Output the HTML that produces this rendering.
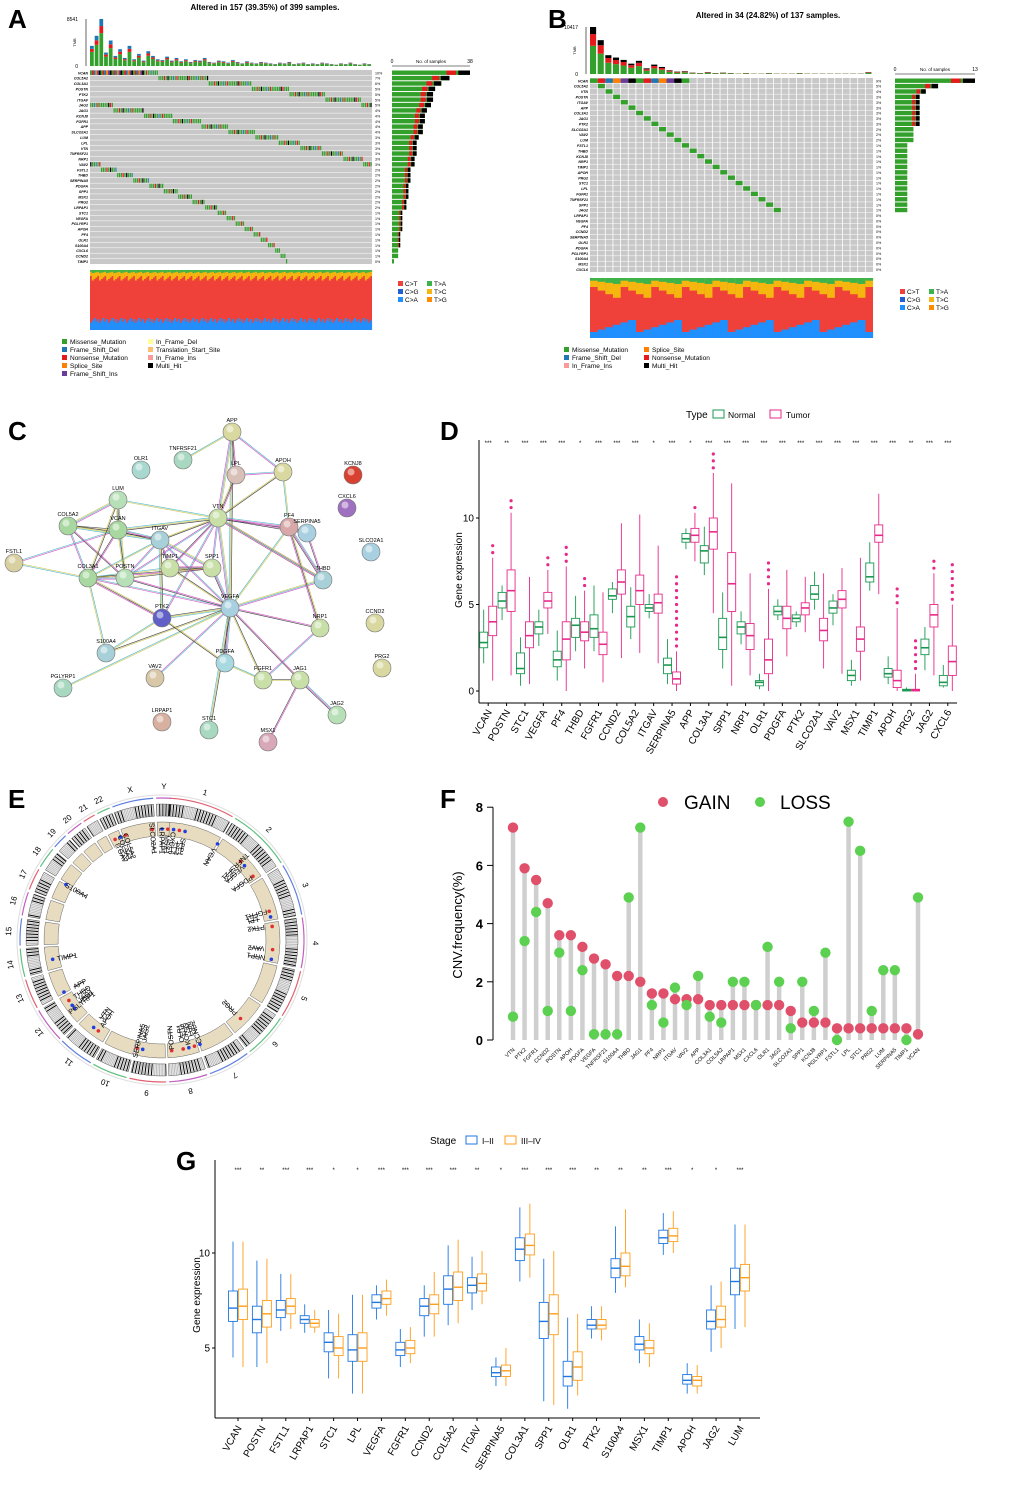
<!DOCTYPE html>
<html><head><meta charset="utf-8"><style>
html,body{margin:0;padding:0;background:#fff}
svg{display:block;font-family:"Liberation Sans",Arial,sans-serif}
</style></head><body>
<svg id="fig" width="1020" height="1487" viewBox="0 0 1020 1487"></svg>
<script>
// ===== Panel D data =====
const dGenes=["VCAN","POSTN","STC1","VEGFA","PF4","THBD","FGFR1","CCND2","COL5A2","ITGAV","SERPINA5","APP","COL3A1","SPP1","NRP1","OLR1","PDGFA","PTK2","SLCO2A1","VAV2","MSX1","TIMP1","APOH","PRG2","JAG2","CXCL6"];
const dStars=["***","**","***","***","***","*","***","***","***","*","***","*","***","***","***","***","***","***","***","***","***","***","***","**","***","***"];
const dNmed=[2.8,5.2,1.3,3.7,1.8,3.8,3.6,5.5,4.3,4.8,1.5,8.8,8.1,3.1,3.7,0.5,4.6,4.2,5.6,4.8,0.9,6.6,1.0,0.05,2.5,0.5];
const dNq1=[2.5,4.8,1.0,3.3,1.4,3.1,3.1,5.3,3.7,4.6,1.0,8.6,7.4,2.4,3.3,0.3,4.4,4.0,5.3,4.5,0.6,6.3,0.8,0.0,2.1,0.3];
const dNq3=[3.4,5.7,2.2,4.0,2.3,4.2,4.4,5.9,4.9,5.0,1.9,9.1,8.4,4.2,4.0,0.6,4.9,4.4,6.1,5.2,1.2,7.4,1.3,0.1,3.0,0.9];
const dNlo=[1.6,4.1,0.3,2.6,0.6,2.3,2.3,4.5,3.0,4.2,0.4,8.2,6.7,1.3,2.7,0.1,4.1,3.7,4.7,3.8,0.3,5.8,0.4,0,1.2,0.2];
const dNhi=[4.7,6.1,3.1,4.7,3.5,5.5,6.1,6.3,6.0,5.6,3.0,9.4,9.5,5.7,4.6,1.0,5.3,4.6,6.9,5.6,1.8,8.6,2.0,0.2,3.7,1.5];
const dTmed=[4.0,5.8,3.2,5.2,3.0,3.4,2.7,6.3,5.8,5.1,0.7,9.0,9.2,6.2,3.2,1.8,4.2,4.8,3.5,5.3,3.0,9.0,0.6,0.05,4.4,1.7];
const dTq1=[3.2,4.6,2.5,4.8,1.8,2.9,2.1,5.6,5.0,4.5,0.4,8.6,8.2,4.6,2.4,1.0,3.6,4.4,2.9,4.8,2.3,8.6,0.2,0,3.7,0.9];
const dTq3=[4.9,7.0,4.0,5.7,4.0,4.0,3.4,7.0,6.7,5.6,1.1,9.4,10.0,8.0,3.9,3.0,4.9,5.1,4.2,5.8,3.7,9.6,1.2,0.1,5.0,2.6];
const dTlo=[0.6,0.9,0.4,3.3,0,1.3,0.5,1.9,2.2,1.6,0,7.5,4.5,0.3,0.9,0,2.0,3.4,1.3,1.0,0.6,5.6,0,0,0.9,0];
const dThi=[7.7,10.3,6.6,7.0,7.2,5.8,5.7,9.7,10.2,8.4,2.3,10.3,12.6,12.0,6.8,5.9,7.0,6.6,6.8,7.1,7.7,11.4,4.8,1.0,6.8,5.0];
const dTmax=[8.7,11.1,6.6,7.7,8.7,6.8,5.7,9.7,10.2,8.4,6.7,10.8,14.1,12.0,6.9,7.8,7.0,6.8,6.8,7.1,7.7,11.4,5.9,3.1,7.7,7.6];
const dTmin=[0.6,0.8,0.4,3.0,0,1.0,0.5,1.8,2.0,1.5,0,5.0,4.3,0.3,0.9,0,2.0,2.8,0.3,0.9,0.6,5.5,0,0,0.6,0];
const dTicks=[0,5,10];
// ===== Panel F data =====
const fGenes=["VTN","PTK2","FGFR1","CCND2","POSTN","APOH","PDGFA","VEGFA","TNFRSF21","S100A4","THBD","JAG1","PF4","NRP1","ITGAV","VAV2","APP","COL3A1","COL5A2","LRPAP1","MSX1","CXCL6","OLR1","JAG2","SLCO2A1","SPP1","KCNJ8","PGLYRP1","FSTL1","LPL","STC1","PRG2","LUM","SERPINA5","TIMP1","VCAN"];
const fGain=[7.3,5.9,5.5,4.7,3.6,3.6,3.2,2.8,2.6,2.2,2.2,2.0,1.6,1.6,1.4,1.4,1.4,1.2,1.2,1.2,1.2,1.2,1.2,1.2,1.0,0.6,0.6,0.6,0.4,0.4,0.4,0.4,0.4,0.4,0.4,0.2];
const fLoss=[0.8,3.4,4.4,1.0,3.0,1.0,2.4,0.2,0.2,0.2,4.9,7.3,1.2,0.6,1.8,1.2,2.2,0.8,0.6,2.0,2.0,1.2,3.2,2.0,0.4,2.0,1.0,3.0,0.0,7.5,6.5,1.0,2.4,2.4,0.0,4.9];
const fTicks=[0,2,4,6,8];
// ===== Panel G data =====
const gGenes=["VCAN","POSTN","FSTL1","LRPAP1","STC1","LPL","VEGFA","FGFR1","CCND2","COL5A2","ITGAV","SERPINA5","COL3A1","SPP1","OLR1","PTK2","S100A4","MSX1","TIMP1","APOH","JAG2","LUM"];
const gStars=["***","**","***","***","*","*","***","***","***","***","**","*","***","***","***","**","**","**","***","*","*","***"];
const gAmed=[7.1,6.5,7.0,6.5,5.3,4.9,7.4,4.9,7.2,8.1,8.3,3.7,10.2,6.4,3.5,6.2,9.2,5.2,10.8,3.3,6.4,8.5];
const gAq1=[6.4,5.8,6.6,6.3,4.8,4.3,7.1,4.6,6.7,7.3,7.9,3.5,9.6,5.5,3.0,6.0,8.7,4.9,10.5,3.1,6.0,7.8];
const gAq3=[8.0,7.2,7.5,6.7,5.8,5.7,7.8,5.3,7.6,8.8,8.7,4.0,10.8,7.4,4.3,6.5,9.7,5.6,11.2,3.6,7.0,9.2];
const gAlo=[4.5,4.0,5.9,5.8,3.4,2.6,6.5,4.0,5.6,6.2,7.0,3.0,8.5,2.2,1.8,5.5,7.9,4.2,9.9,2.6,4.8,6.0];
const gAhi=[10.6,9.6,8.9,7.3,7.0,7.8,8.3,6.0,8.3,10.4,9.8,4.5,12.4,9.7,6.6,7.2,11.4,6.5,12.1,4.2,8.3,11.5];
const gBmed=[7.2,6.8,7.2,6.3,5.0,5.0,7.6,5.0,7.3,8.2,8.4,3.8,10.4,6.8,4.0,6.2,9.3,5.0,10.9,3.3,6.5,8.7];
const gBq1=[6.5,6.1,6.8,6.1,4.6,4.3,7.3,4.7,6.8,7.5,8.0,3.5,9.9,5.7,3.3,6.0,8.8,4.7,10.6,3.0,6.1,8.0];
const gBq3=[8.1,7.5,7.6,6.5,5.6,5.8,8.0,5.4,7.8,9.0,8.9,4.1,11.0,7.8,4.8,6.5,10.0,5.4,11.3,3.5,7.2,9.4];
const gBlo=[4.0,4.2,6.0,5.8,3.4,2.6,6.7,4.2,5.6,6.3,7.3,3.0,8.7,2.0,2.5,5.4,8.2,4.0,10.0,2.6,5.0,6.1];
const gBhi=[10.6,9.7,8.9,7.0,6.8,7.8,8.6,6.1,9.0,10.7,10.1,5.0,12.6,10.1,6.8,7.2,12.3,6.3,12.2,4.1,8.5,11.5];
const gTicks=[5,10];
// ===== Panel A/B data =====
const aGenes=["VCAN","COL5A2","COL3A1","POSTN","PTK2","ITGAV","JAG2","JAG1","KCNJ8","FGFR1","APP","SLCO2A1","LUM","LPL","VTN","TNFRSF21","NRP1","VAV2","FSTL1","THBD","SERPINA5","PDGFA","SPP1","MSX1","PRG2","LRPAP1","STC1","VEGFA","PGLYRP1","APOH","PF4","OLR1","S100A4","CXCL6","CCND2","TIMP1"];
const aPct=[10,7,6,5,5,5,5,4,4,4,4,4,3,3,3,3,3,3,2,2,2,2,2,2,2,2,1,1,1,1,1,1,1,1,1,0];
const aCnt=[38,28,24,21,20,20,19,17,16,16,15,15,13,12,12,12,11,11,9,9,9,8,8,8,7,7,5,5,5,5,4,4,4,3,3,1];
const aTmb=[30,45,70,20,38,15,25,12,30,10,18,8,22,15,10,9,14,8,12,7,10,6,9,8,12,6,5,8,7,5,9,6,4,7,5,4,6,5,4,3,5,4,6,3,4,5,3,4,3,5,4,3,2,4,3,5,3,2,4,3];
const bGenes=["VCAN","COL5A2","VTN","POSTN","ITGAV","APP","COL3A1","JAG1","PTK2","SLCO2A1","VAV2","LUM","FSTL1","THBD","KCNJ8","NRP1","TIMP1","APOH","PRG2","STC1","LPL","FGFR1","TNFRSF21","SPP1","JAG2","LRPAP1","VEGFA","PF4","CCND2","SERPINA5","OLR1","PDGFA","PGLYRP1","S100A4","MSX1","CXCL6"];
const bPct=[9,5,4,3,3,3,3,3,3,2,2,2,1,1,1,1,1,1,1,1,1,1,1,1,1,0,0,0,0,0,0,0,0,0,0,0];
const bCnt=[13,7,5,4,4,4,4,4,4,3,3,3,2,2,2,2,2,2,2,2,2,2,2,2,2,0,0,0,0,0,0,0,0,0,0,0];
const bTmb=[100,72,40,35,30,22,28,12,20,15,8,5,6,3,2,4,2,3,2,1,2,1,1,2,1,1,1,2,1,1,1,1,1,1,1,1,4];

const NS="http://www.w3.org/2000/svg";
const svg=document.getElementById('fig');
function el(tag,attrs,parent,text){const e=document.createElementNS(NS,tag);for(const k in attrs)e.setAttribute(k,attrs[k]);if(text!==undefined)e.textContent=text;(parent||svg).appendChild(e);return e;}
function grp(name){const g=el('g',{});return g;}
function txt(p,x,y,s,size,extra){const t=el('text',Object.assign({x:x,y:y,'font-size':size},extra||{}),p,s);return t;}

[["A",8,28],["B",548,28],["C",8,440],["D",440,440],["E",8,808],["F",440,808],["G",176,1170]].forEach(([l,x,y])=>{
 const t=txt(svg,x,y,l,26,{'font-weight':'bold'});
 
});

function oncoplot(cfg){
 const g=grp(cfg.name);
 txt(g,cfg.titleX,cfg.titleY,cfg.title,8,{'font-weight':'bold','text-anchor':'middle'});
 const tmbMax=Math.max(...cfg.tmb);
 txt(g,cfg.gx-12,cfg.tmbTop+2,String(cfg.tmbLabel),5,{'text-anchor':'end'});
 txt(g,cfg.gx-12,cfg.tmbBot+2,"0",5,{'text-anchor':'end'});
 txt(g,cfg.gx-14,(cfg.tmbTop+cfg.tmbBot)/2,"TMB",4,{'text-anchor':'middle',transform:`rotate(-90 ${cfg.gx-14} ${(cfg.tmbTop+cfg.tmbBot)/2})`});
 el('line',{x1:cfg.gx-4,y1:cfg.tmbTop,x2:cfg.gx-4,y2:cfg.tmbBot,stroke:'#000','stroke-width':0.6},g);
 const bw=cfg.tmbW;
 cfg.tmb.forEach((v,i)=>{
  const h=v/tmbMax*(cfg.tmbBot-cfg.tmbTop);
  let y=cfg.tmbBot;
  const parts=cfg.tmbColors(i);
  parts.forEach(([f,c])=>{const hh=h*f;el('rect',{x:cfg.gx+i*bw,y:y-hh,width:bw*0.8,height:hh,fill:c},g);y-=hh;});
 });
 const n=cfg.genes.length, rh=cfg.gh/n;
 el('rect',{x:cfg.gx,y:cfg.gy,width:cfg.gw,height:cfg.gh,fill:'#c8c8c8'},g);
 const cw=cfg.gw/cfg.cols;
 if(cw>3){for(let c=1;c<cfg.cols;c++)el('line',{x1:cfg.gx+c*cw,y1:cfg.gy,x2:cfg.gx+c*cw,y2:cfg.gy+cfg.gh,stroke:'#fff','stroke-width':0.8},g);}
 for(let r=1;r<n;r++)el('line',{x1:cfg.gx,y1:cfg.gy+r*rh,x2:cfg.gx+cfg.gw,y2:cfg.gy+r*rh,stroke:'#fff','stroke-width':0.5},g);
 let off=0;
 cfg.genes.forEach((gn,i)=>{
  const y=cfg.gy+i*rh;
  txt(g,cfg.gx-2,y+rh*0.8,gn,3.6,{'text-anchor':'end','font-style':'italic','font-weight':'bold'});
  txt(g,cfg.gx+cfg.gw+3,y+rh*0.8,cfg.pct[i]+"%",3.6,{});
  const k=cfg.cellCount(i);
  for(let j=0;j<k;j++){
   const c=(off+j)%cfg.cols;
   const col=(j%7==3)?'#e41a1c':(j%11==5)?'#000':(j%13==8)?'#377eb8':'#33a02c';
   el('rect',{x:cfg.gx+c*cw+0.2,y:y+0.5,width:Math.max(cw-0.6,1.2),height:rh-1,fill:col},g);
  }
  if(i==0){for(let c=0;c<cfg.firstRow;c++){const col=['#33a02c','#e41a1c','#1f78b4','#ff7f00','#6a3d9a','#000'][c%6];el('rect',{x:cfg.gx+c*cw,y:y+0.5,width:Math.max(cw,1),height:rh-1,fill:col},g);} }
  off+=Math.max(1,Math.round(k*cfg.step));
  const bl=cfg.cnt[i]/cfg.maxCnt*cfg.sbW;
  el('rect',{x:cfg.sbX,y:y+0.5,width:bl,height:rh-1,fill:'#33a02c'},g);
  if(cfg.cnt[i]>3){el('rect',{x:cfg.sbX+bl*0.7,y:y+0.5,width:bl*0.12,height:rh-1,fill:'#e41a1c'},g);el('rect',{x:cfg.sbX+bl*0.85,y:y+0.5,width:bl*0.15,height:rh-1,fill:'#000'},g);}
 });
 el('line',{x1:cfg.sbX,y1:cfg.gy-4,x2:cfg.sbX+cfg.sbW,y2:cfg.gy-4,stroke:'#000','stroke-width':0.6},g);
 txt(g,cfg.sbX,cfg.gy-7,"0",5,{'text-anchor':'middle'});
 txt(g,cfg.sbX+cfg.sbW,cfg.gy-7,String(cfg.maxCnt),5,{'text-anchor':'middle'});
 txt(g,cfg.sbX+cfg.sbW/2,cfg.gy-7,"No. of samples",4.5,{'text-anchor':'middle'});
 const tx=cfg.gx, ty=cfg.tvY, th=cfg.tvH;
 el('rect',{x:tx,y:ty,width:cfg.gw,height:th,fill:'#f0403a'},g);
 const tcols=cfg.tvCols, tw=cfg.gw/tcols;
 for(let c=0;c<tcols;c++){
  const b=cfg.tvBlue(c), top=cfg.tvTop(c);
  el('rect',{x:tx+c*tw,y:ty+th-b*th,width:tw+0.1,height:b*th,fill:'#1e90ff'},g);
  el('rect',{x:tx+c*tw,y:ty,width:tw+0.1,height:top*th,fill:'#f5b60f'},g);
  el('rect',{x:tx+c*tw,y:ty,width:tw+0.1,height:top*th*0.3,fill:'#3cb44b'},g);
 }
 const lg=[["C>T","#f0403a"],["T>A","#3cb44b"],["C>G","#1f5fd0"],["T>C","#f5b60f"],["C>A","#1e90ff"],["T>G","#ff8c00"]];
 lg.forEach(([l,c],i)=>{const x=cfg.tlX+(i%2)*29,y=cfg.tlY+Math.floor(i/2)*8;el('rect',{x:x,y:y-5,width:5,height:5,fill:c},g);txt(g,x+7,y,l,6.5);});
 cfg.vleg.forEach(([l,c,x,y])=>{el('rect',{x:x,y:y-5,width:5,height:5,fill:c},g);txt(g,x+8,y,l,6.5);});
}
oncoplot({name:'oncoplot-a',title:'Altered in 157 (39.35%) of 399 samples.',titleX:265,titleY:10,
 tmb:aTmb,tmbLabel:8541,tmbTop:19,tmbBot:66,tmbW:282/aTmb.length,gx:90,gy:70,gw:282,gh:194,cols:157,
 tmbColors:i=>[[0.7,'#33a02c'],[0.15,'#e41a1c'],[0.15,'#1f78b4']],
 genes:aGenes,pct:aPct,cnt:aCnt,maxCnt:38,cellCount:i=>aCnt[i],step:1.0,firstRow:30,sbX:392,sbW:78,
 tvY:270,tvH:60,tvCols:157,tvBlue:c=>0.12+((c*7)%5)*0.02,tvTop:c=>0.1+((c*3)%4)*0.025,tlX:398,tlY:286,
 vleg:[["Missense_Mutation","#33a02c",62,344],["Frame_Shift_Del","#1f78b4",62,352],["Nonsense_Mutation","#e41a1c",62,360],["Splice_Site","#ff7f00",62,368],["Frame_Shift_Ins","#6a3d9a",62,376],["In_Frame_Del","#ffff99",148,344],["Translation_Start_Site","#fdbf6f",148,352],["In_Frame_Ins","#fb9a99",148,360],["Multi_Hit","#000",148,368]]});
oncoplot({name:'oncoplot-b',title:'Altered in 34 (24.82%) of 137 samples.',titleX:768,titleY:18,
 tmb:bTmb,tmbLabel:10417,tmbTop:27,tmbBot:74,tmbW:283/bTmb.length,gx:590,gy:78,gw:283,gh:194,cols:37,
 tmbColors:i=>[[0.6,'#33a02c'],[0.25,'#e41a1c'],[0.15,'#000']],
 genes:bGenes,pct:bPct,cnt:bCnt,maxCnt:13,cellCount:i=>bCnt[i]>0?(i==0?0:1):0,step:1.4,firstRow:13,sbX:895,sbW:80,
 tvY:278,tvH:60,tvCols:37,tvBlue:c=>0.1+((c*7)%6)*0.04,tvTop:c=>0.15+((c*5)%4)*0.06,tlX:900,tlY:294,
 vleg:[["Missense_Mutation","#33a02c",564,352],["Frame_Shift_Del","#1f78b4",564,360],["In_Frame_Ins","#fb9a99",564,368],["Splice_Site","#ff7f00",644,352],["Nonsense_Mutation","#e41a1c",644,360],["Multi_Hit","#000",644,368]]});

(function(){
 const g=grp('network-c');
 const nodes={APP:[232,432,'#d8d8a0'],TNFRSF21:[183,460,'#a8d8c0'],LPL:[236,475,'#d8c0b8'],APOH:[283,472,'#d8d8a0'],OLR1:[141,470,'#a8d8d0'],KCNJ8:[353,475,'#d84030'],LUM:[118,500,'#b8e0b8'],CXCL6:[347,508,'#a070c0'],VTN:[218,518,'#c8e0a8'],PF4:[289,527,'#d8a8a8'],SERPINA5:[307,533,'#a8d0e0'],COL5A2:[68,526,'#a8d8a0'],VCAN:[118,530,'#a8d8a0'],ITGAV:[160,540,'#a8d0d8'],SLCO2A1:[371,552,'#a8d0e0'],FSTL1:[14,563,'#d8d0a0'],TIMP1:[170,568,'#c8e0a8'],SPP1:[212,568,'#c8e0a8'],THBD:[323,580,'#a8d0d8'],COL3A1:[88,578,'#a8d8a0'],POSTN:[125,578,'#b8e0b8'],VEGFA:[230,608,'#a8d0e0'],PTK2:[162,618,'#6060c8'],CCND2:[375,623,'#d8d8a0'],NRP1:[320,628,'#c8e0a8'],S100A4:[106,653,'#a8d0d8'],PDGFA:[225,663,'#a8d8e0'],VAV2:[155,678,'#d8c8a8'],FGFR1:[263,680,'#c8e0a8'],JAG1:[300,680,'#c8e0a8'],PRG2:[382,668,'#d8d8a0'],PGLYRP1:[63,688,'#a8d8c0'],JAG2:[337,715,'#b8e0b8'],LRPAP1:[162,722,'#d8b0a0'],STC1:[209,730,'#a8d8c0'],MSX1:[268,742,'#d8a8b8']};
 const edges=[["APP","VTN"],["APP","APOH"],["APP","LPL"],["APP","VEGFA"],["APP","TNFRSF21"],["LPL","APOH"],["LPL","VTN"],["APOH","VTN"],["APOH","PF4"],["VTN","PF4"],["VTN","SERPINA5"],["VTN","ITGAV"],["VTN","VEGFA"],["VTN","SPP1"],["VTN","TIMP1"],["VTN","VCAN"],["VTN","LUM"],["VTN","POSTN"],["VTN","THBD"],["PF4","SERPINA5"],["PF4","VEGFA"],["PF4","THBD"],["SERPINA5","THBD"],["COL5A2","VCAN"],["COL5A2","LUM"],["COL5A2","COL3A1"],["COL5A2","POSTN"],["COL5A2","ITGAV"],["FSTL1","COL3A1"],["FSTL1","VCAN"],["LUM","VCAN"],["LUM","COL3A1"],["LUM","POSTN"],["VCAN","ITGAV"],["VCAN","COL3A1"],["VCAN","POSTN"],["ITGAV","SPP1"],["ITGAV","VEGFA"],["ITGAV","TIMP1"],["ITGAV","PTK2"],["ITGAV","COL3A1"],["ITGAV","POSTN"],["TIMP1","SPP1"],["TIMP1","VEGFA"],["TIMP1","COL3A1"],["SPP1","VEGFA"],["SPP1","COL3A1"],["SPP1","POSTN"],["COL3A1","POSTN"],["COL3A1","VEGFA"],["POSTN","VEGFA"],["PTK2","VEGFA"],["PTK2","S100A4"],["PTK2","VTN"],["PTK2","COL3A1"],["S100A4","VEGFA"],["S100A4","COL3A1"],["VEGFA","PDGFA"],["VEGFA","NRP1"],["VEGFA","FGFR1"],["VEGFA","THBD"],["VEGFA","VAV2"],["VEGFA","JAG1"],["VEGFA","STC1"],["VEGFA","PGLYRP1"],["NRP1","FGFR1"],["NRP1","PF4"],["FGFR1","JAG1"],["FGFR1","PDGFA"],["JAG1","JAG2"],["JAG1","MSX1"],["PDGFA","PTK2"],["VTN","THBD"]];
 const cols=['#c8c040','#40b0c0','#d040c0','#303030'];
 edges.forEach(([a,b],i)=>{const A=nodes[a],B=nodes[b];const dx=B[0]-A[0],dy=B[1]-A[1],L=Math.hypot(dx,dy)||1;const nx=-dy/L,ny=dx/L;
  const k=i%3==0?3:2;for(let j=0;j<k;j++){const o=(j-(k-1)/2)*1.1;el('line',{x1:A[0]+nx*o,y1:A[1]+ny*o,x2:B[0]+nx*o,y2:B[1]+ny*o,stroke:cols[(i+j)%4],'stroke-width':0.7,opacity:0.85},g);}});
 for(const k in nodes){const [x,y,c]=nodes[k];
  const cg=el('g',{},g);
  el('circle',{cx:x,cy:y,r:9,fill:c,stroke:'#777','stroke-width':0.6},cg);
  el('circle',{cx:x-2,cy:y-3,r:3.5,fill:'#fff',opacity:0.5},cg);
  txt(cg,x,y-10,k,5.5,{'text-anchor':'middle'});}
})();

(function(){
 const g=grp('boxplot-d');
 const x0=479,x1=957,yv=v=>691-v*17.3;
 const n=dGenes.length, sp=(x1-x0)/n, xc=i=>x0+sp*(i+0.5);
 txt(g,686,418,"Type",10,{});
 el('rect',{x:713,y:410,width:11,height:8,fill:'none',stroke:'#1a9850','stroke-width':1},g);txt(g,728,418,"Normal",8.5);
 el('rect',{x:770,y:410,width:11,height:8,fill:'none',stroke:'#e7298a','stroke-width':1},g);txt(g,786,418,"Tumor",8.5);
 el('line',{x1:x0,y1:440,x2:x0,y2:703,stroke:'#000'},g);el('line',{x1:x0,y1:703,x2:x1,y2:703,stroke:'#000'},g);
 dTicks.forEach(t=>{el('line',{x1:x0-3,y1:yv(t),x2:x0,y2:yv(t),stroke:'#000'},g);txt(g,x0-5,yv(t)+3.5,String(t),10,{'text-anchor':'end'});});
 txt(g,462,570,"Gene expression",10,{'text-anchor':'middle',transform:'rotate(-90 462 570)'});
 function box(x,w,q1,med,q3,lo,hi,c){
  el('line',{x1:x,y1:yv(lo),x2:x,y2:yv(hi),stroke:c,'stroke-width':0.9},g);
  el('rect',{x:x-w/2,y:yv(q3),width:w,height:yv(q1)-yv(q3),fill:'#fff',stroke:c,'stroke-width':0.9},g);
  el('line',{x1:x-w/2,y1:yv(med),x2:x+w/2,y2:yv(med),stroke:c,'stroke-width':1.6},g);}
 dGenes.forEach((gn,i)=>{const x=xc(i);
  box(x-4.5,8,dNq1[i],dNmed[i],dNq3[i],dNlo[i],dNhi[i],'#1a9850');
  box(x+4.5,8,dTq1[i],dTmed[i],dTq3[i],dTlo[i],dThi[i],'#e7298a');
  if(dTmax[i]>dThi[i]+0.2){for(let v=dThi[i]+0.3;v<=dTmax[i];v+=0.4)el('circle',{cx:x+4.5,cy:yv(v),r:1.6,fill:'#e7298a'},g);}
  el('line',{x1:x,y1:703,x2:x,y2:706,stroke:'#000'},g);
  txt(g,x,445,dStars[i],6,{'text-anchor':'middle'});
  txt(g,x+4,712,gn,10,{'text-anchor':'end',transform:`rotate(-60 ${x+4} 712)`});
 });
})();

(function(){
 const g=grp('circos-e');
 const cx=162,cy=940;
 el('circle',{cx:cx,cy:cy,r:145,fill:'none',stroke:'#ddd','stroke-width':1},g);
 const chrs=["1","2","3","4","5","6","7","8","9","10","11","12","13","14","15","16","17","18","19","20","21","22","X","Y"];
 const sz=[249,242,198,190,181,171,159,145,138,134,135,133,114,107,102,90,83,80,59,64,47,51,156,57];
 const tot=sz.reduce((a,b)=>a+b,0)*1.08;let ang=-Math.PI/2+0.05;
 const arcC=['#e06070','#60c080','#6080e0','#c060c0'];
 chrs.forEach((c,i)=>{const a0=ang,a1=ang+sz[i]/tot*2*Math.PI;ang=a1+0.08/24*2*Math.PI;
  const p=(r,a)=>[cx+r*Math.cos(a),cy+r*Math.sin(a)];
  const [ax,ay]=p(142,a0),[bx,by]=p(142,a1);
  el('path',{d:`M${ax} ${ay} A142 142 0 0 1 ${bx} ${by}`,fill:'none',stroke:arcC[i%4],'stroke-width':1.2},g);
  for(let a=a0;a<a1;a+=0.012){const [x1,y1]=p(124,a),[x2,y2]=p(136,a);el('line',{x1:x1,y1:y1,x2:x2,y2:y2,stroke:((Math.floor(a*131)%3)==0)?'#000':'#bbb','stroke-width':1},g);}
  const [u,v]=p(124,a0),[w,z]=p(124,a1),[u2,v2]=p(136,a1),[w2,z2]=p(136,a0);
  el('path',{d:`M${u} ${v} A124 124 0 0 1 ${w} ${z} L${u2} ${v2} A136 136 0 0 0 ${w2} ${z2}Z`,fill:'none',stroke:'#555','stroke-width':0.5},g);
  const [u3,v3]=p(104,a0),[w3,z3]=p(104,a1),[u4,v4]=p(118,a1),[w4,z4]=p(118,a0);
  el('path',{d:`M${u3} ${v3} A104 104 0 0 1 ${w3} ${z3} L${u4} ${v4} A118 118 0 0 0 ${w4} ${z4}Z`,fill:'#e8dcc0',stroke:'#666','stroke-width':0.5},g);
  const am=(a0+a1)/2,[lx,ly]=p(154,am);
  txt(g,lx,ly+3,c,8,{'text-anchor':'middle',transform:`rotate(${am*180/Math.PI+90} ${lx} ${ly})`});
 });
 const gl=[["TIMP1",-100],["S100A4",-60],["ITGAV",-25],["COL3A1",-22],["COL5A2",-19],["SLCO2A1",-5],["LRPAP1",0],["MSX1",3],["CXCL6",6],["PF4",9],["SPP1",12],["VCAN",30],["TNFRSF21",45],["VEGFA",48],["PDGFA",55],["FGFR1",75],["LPL",78],["PTK2",83],["NRP1",100],["VAV2",95],["PRG2",135],["CCND2",160],["LUM",163],["KCNJ8",166],["OLR1",169],["POSTN",175],["JAG2",190],["SERPINA5",193],["APOH",215],["VTN",218],["PGLYRP1",232],["JAG1",234],["THBD",237],["APP",242]];
 gl.forEach(([n,d])=>{const a=(d-90)*Math.PI/180;const x1=cx+100*Math.cos(a),y1=cy+100*Math.sin(a),x2=cx+88*Math.cos(a),y2=cy+88*Math.sin(a);
  el('line',{x1:x1,y1:y1,x2:x2,y2:y2,stroke:'#000','stroke-width':0.6},g);
  el('circle',{cx:cx+111*Math.cos(a),cy:cy+111*Math.sin(a),r:1.8,fill:(d%2)?'#e03030':'#2040e0'},g);
  const rot=d-90;const tx=cx+86*Math.cos(a),ty=cy+86*Math.sin(a);
  txt(g,tx,ty+2.5,n,7,{'text-anchor':'end',transform:`rotate(${rot+180} ${tx} ${ty})`});
 });
})();

(function(){
 const g=grp('lollipop-f');
 const x0=493,y0=1040,yv=v=>y0-v*29.1;
 const n=fGenes.length, xc=i=>513+i*(405/(n-1));
 el('circle',{cx:663,cy:802,r:5,fill:'#e0506a'},g);txt(g,684,809,"GAIN",19,{});
 el('circle',{cx:760,cy:802,r:5,fill:'#5cd050'},g);txt(g,780,809,"LOSS",19,{});
 el('line',{x1:x0,y1:yv(0),x2:x0,y2:yv(8),stroke:'#000'},g);
 fTicks.forEach(t=>{el('line',{x1:x0-6,y1:yv(t),x2:x0,y2:yv(t),stroke:'#000'},g);txt(g,x0-10,yv(t)+5,String(t),13,{'text-anchor':'end','font-weight':'bold'});});
 txt(g,462,925,"CNV.frequency(%)",13,{'text-anchor':'middle',transform:'rotate(-90 462 925)'});
 fGenes.forEach((gn,i)=>{const x=xc(i);const m=Math.max(fGain[i],fLoss[i]);
  el('line',{x1:x,y1:yv(0),x2:x,y2:yv(m),stroke:'#cfcfcf','stroke-width':4.5},g);
  el('circle',{cx:x,cy:yv(fGain[i]),r:5.2,fill:'#e0506a'},g);
  el('circle',{cx:x,cy:yv(fLoss[i]),r:5.2,fill:'#5cd050'},g);
  txt(g,x+2,1050,gn,5.5,{'text-anchor':'end',transform:`rotate(-45 ${x+2} 1050)`});
 });
})();

(function(){
 const g=grp('boxplot-g');
 const x0=215,yv=v=>1348-(v-5)*19;
 const n=gGenes.length, xc=i=>238+i*(502/(n-1));
 txt(g,430,1144,"Stage",10,{});
 el('rect',{x:466,y:1136,width:11,height:8,fill:'none',stroke:'#1f77e4','stroke-width':1},g);txt(g,482,1144,"I–II",8.5);
 el('rect',{x:505,y:1136,width:11,height:8,fill:'none',stroke:'#ff9e1b','stroke-width':1},g);txt(g,521,1144,"III–IV",8.5);
 el('line',{x1:x0,y1:1160,x2:x0,y2:1418,stroke:'#000'},g);el('line',{x1:x0,y1:1418,x2:760,y2:1418,stroke:'#000'},g);
 gTicks.forEach(t=>{el('line',{x1:x0-3,y1:yv(t),x2:x0,y2:yv(t),stroke:'#000'},g);txt(g,x0-5,yv(t)+3.5,String(t),10,{'text-anchor':'end'});});
 txt(g,200,1295,"Gene expression",10,{'text-anchor':'middle',transform:'rotate(-90 200 1295)'});
 function box(x,w,q1,med,q3,lo,hi,c){
  el('line',{x1:x,y1:yv(lo),x2:x,y2:yv(hi),stroke:c,'stroke-width':0.9},g);
  el('rect',{x:x-w/2,y:yv(q3),width:w,height:yv(q1)-yv(q3),fill:'#fff',stroke:c,'stroke-width':0.9},g);
  el('line',{x1:x-w/2,y1:yv(med),x2:x+w/2,y2:yv(med),stroke:c,'stroke-width':1.4},g);}
 gGenes.forEach((gn,i)=>{const x=xc(i);
  box(x-5,9,gAq1[i],gAmed[i],gAq3[i],gAlo[i],gAhi[i],'#1f77e4');
  box(x+5,9,gBq1[i],gBmed[i],gBq3[i],gBlo[i],gBhi[i],'#ff9e1b');
  el('line',{x1:x,y1:1418,x2:x,y2:1421,stroke:'#000'},g);
  txt(g,x,1172,gStars[i],6,{'text-anchor':'middle'});
  txt(g,x+4,1428,gn,10,{'text-anchor':'end',transform:`rotate(-60 ${x+4} 1428)`});
 });
})();
</script>
</body></html>
